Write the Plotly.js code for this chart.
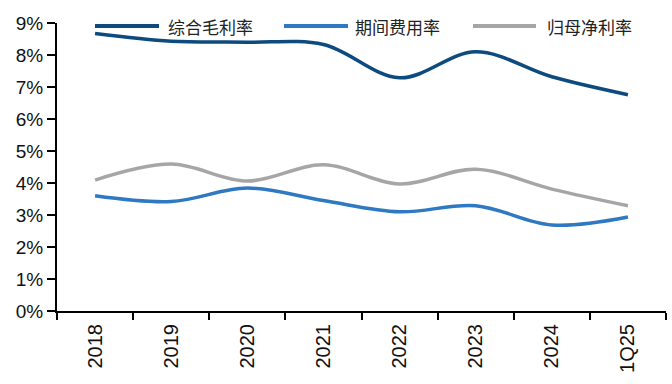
<!DOCTYPE html>
<html>
<head>
<meta charset="utf-8">
<script src="https://cdn.plot.ly/plotly-3.0.1.min.js"></script>
<style>html,body{margin:0;padding:0;background:#fff;}#chart{width:672px;height:384px;}</style>
</head>
<body>
<div id="chart"></div>
<script>
const categories = ["2018","2019","2020","2021","2022","2023","2024","1Q25"];
const grossMargin = [8.67, 8.43, 8.40, 8.33, 7.29, 8.10, 7.32, 6.76];
const expenseRatio = [3.60, 3.42, 3.84, 3.45, 3.10, 3.29, 2.69, 2.94];
const netMargin = [4.09, 4.59, 4.06, 4.57, 3.97, 4.43, 3.81, 3.29];
const seriesNames = ["综合毛利率","期间费用率","归母净利率"];
const seriesColors = ["#0D4A7E","#2F79C2","#A6A6A6"];
const yTicks = [0,1,2,3,4,5,6,7,8,9];

const W = 672, H = 384;
const mL = 57, mR = 6, mT = 23, mB = 73;
const pw = W - mL - mR, ph = H - mT - mB;
const px = x => (x - mL) / pw;
const py = y => (H - mB - y) / ph;

const allSeries = [grossMargin, expenseRatio, netMargin];
const traces = allSeries.map((vals, i) => ({
  type: "scatter", mode: "lines", x: categories, y: vals, name: seriesNames[i],
  line: {color: seriesColors[i], width: 3.5, shape: "spline", smoothing: 1},
  showlegend: false, hoverinfo: "skip"
}));

// custom legend (long line samples like the reference)
const legendItems = [
  {x0: 95, x1: 159, tx: 166},
  {x0: 284, x1: 348, tx: 353},
  {x0: 473, x1: 536, tx: 545}
];
const shapes = legendItems.map((it, i) => ({
  type: "line", xref: "paper", yref: "paper",
  x0: px(it.x0), x1: px(it.x1), y0: py(26), y1: py(26),
  line: {color: seriesColors[i], width: 4}
}));
const annotations = legendItems.map((it, i) => ({
  xref: "paper", yref: "paper", x: px(it.tx), y: py(27),
  xanchor: "left", yanchor: "middle", showarrow: false,
  text: seriesNames[i],
  font: {family: "Noto Sans CJK SC", size: 17, color: "#222"}
}));

const layout = {
  width: W, height: H,
  margin: {l: mL, r: mR, t: mT, b: mB, pad: 0},
  paper_bgcolor: "#fff", plot_bgcolor: "#fff",
  showlegend: false,
  xaxis: {
    type: "category", range: [-0.5, categories.length - 0.5], tickson: "boundaries",
    ticks: "outside", ticklen: 7, tickwidth: 2, tickcolor: "#000",
    showline: true, linecolor: "#000", linewidth: 2,
    showgrid: false, zeroline: false, tickangle: -90, ticklabelstandoff: 3,
    tickfont: {family: "Liberation Sans, Arial, sans-serif", size: 20, color: "#111"},
    fixedrange: true
  },
  yaxis: {
    range: [0, 9], tickvals: yTicks, ticktext: yTicks.map(v => v + "%"),
    ticks: "outside", ticklen: 8, tickwidth: 2, tickcolor: "#000",
    showline: true, linecolor: "#000", linewidth: 2,
    showgrid: false, zeroline: false,
    tickfont: {family: "Liberation Sans, Arial, sans-serif", size: 19, color: "#111"},
    fixedrange: true
  },
  shapes: shapes,
  annotations: annotations
};

Plotly.newPlot("chart", traces, layout, {displayModeBar: false, staticPlot: true});
</script>
</body>
</html>
